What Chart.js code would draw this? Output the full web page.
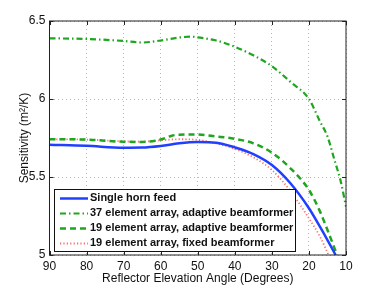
<!DOCTYPE html>
<html>
<head>
<meta charset="utf-8">
<script src="https://cdn.jsdelivr.net/npm/chart.js@4"></script>
<style>
  html, body { margin: 0; padding: 0; background: #fff; }
  #wrap { width: 382px; height: 287px; }
</style>
</head>
<body>
<div id="wrap"><canvas id="sens"></canvas></div>
<script>
// values (angle in degrees -> sensitivity m^2/K)
const xTicks = [90, 80, 70, 60, 50, 40, 30, 20, 10];
const yTicks = [5, 5.5, 6, 6.5];

const hornAngles = [90, 80, 70, 65, 60, 55, 50, 45, 40, 35, 30, 25, 20, 17, 15, 12.8];
const hornValues = [5.707, 5.70, 5.688, 5.689, 5.699, 5.716, 5.724, 5.72, 5.69, 5.647, 5.577, 5.46, 5.30, 5.18, 5.096, 5.0];

const arr37Angles = [90, 80, 70, 65, 60, 55, 52, 50, 45, 40, 35, 30, 25, 20, 17, 15, 13, 11.5, 10];
const arr37Values = [6.389, 6.385, 6.372, 6.362, 6.375, 6.394, 6.40, 6.395, 6.375, 6.335, 6.28, 6.21, 6.11, 6.00, 5.855, 5.76, 5.60, 5.48, 5.31];

const arr19Angles = [90, 80, 70, 65, 60, 57, 55, 50, 45, 40, 35, 30, 25, 20, 17, 15, 12.4];
const arr19Values = [5.742, 5.74, 5.726, 5.725, 5.74, 5.765, 5.771, 5.772, 5.76, 5.745, 5.716, 5.656, 5.556, 5.417, 5.278, 5.16, 5.0];

const fixedAngles = [90, 80, 70, 65, 60, 55, 50, 45, 40, 35, 30, 25, 20, 17, 14.7];
const fixedValues = [5.742, 5.74, 5.728, 5.727, 5.735, 5.742, 5.738, 5.715, 5.68, 5.626, 5.545, 5.41, 5.235, 5.117, 5.0];

const seriesNames = [
  'Single horn feed',
  '37 element array, adaptive beamformer',
  '19 element array, adaptive beamformer',
  '19 element array, fixed beamformer'
];

const toPoints = (xs, ys) => xs.map((x, i) => ({ x: x, y: ys[i] }));

const FONT = '"Liberation Sans", Arial, Helvetica, sans-serif';

// box round the axes, inward ticks, and the legend drawn inside the plot
const framePlugin = {
  id: 'frame',
  afterDatasetsDraw(chart) {
    const { ctx, chartArea: a, scales } = chart;
    ctx.save();
    ctx.strokeStyle = '#222';
    ctx.lineWidth = 1;
    ctx.setLineDash([]);
    ctx.strokeRect(a.left, a.top, a.right - a.left, a.bottom - a.top);
    ctx.beginPath();
    xTicks.forEach(t => {
      const px = Math.round(scales.x.getPixelForValue(t)) + 0.5;
      ctx.moveTo(px, a.bottom); ctx.lineTo(px, a.bottom - 4);
      ctx.moveTo(px, a.top); ctx.lineTo(px, a.top + 4);
    });
    yTicks.forEach(t => {
      const py = Math.round(scales.y.getPixelForValue(t)) + 0.5;
      ctx.moveTo(a.left, py); ctx.lineTo(a.left + 4, py);
      ctx.moveTo(a.right, py); ctx.lineTo(a.right - 4, py);
    });
    ctx.stroke();

    // legend
    const bx = 54, by = 189, bw = 241, bh = 62;
    ctx.fillStyle = '#fff';
    ctx.fillRect(bx, by, bw, bh);
    ctx.strokeStyle = '#111';
    ctx.strokeRect(bx + 0.5, by + 0.5, bw, bh);
    const rows = [197.5, 213, 228, 243];
    chart.data.datasets.forEach((ds, i) => {
      const y = Math.round(rows[i]) + 0.5;
      ctx.strokeStyle = ds.borderColor;
      ctx.lineWidth = ds.borderWidth;
      ctx.setLineDash(ds.borderDash || []);
      ctx.beginPath();
      ctx.moveTo(60, y); ctx.lineTo(88, y);
      ctx.stroke();
      ctx.setLineDash([]);
      ctx.fillStyle = '#111';
      ctx.font = 'bold 11px ' + FONT;
      ctx.textBaseline = 'middle';
      ctx.textAlign = 'left';
      ctx.fillText(ds.label, 90, rows[i]);
    });
    ctx.restore();
  }
};

new Chart(document.getElementById('sens'), {
  type: 'line',
  data: {
    datasets: [
      {
        label: seriesNames[0],
        data: toPoints(hornAngles, hornValues),
        borderColor: '#2040ff',
        borderWidth: 2.5
      },
      {
        label: seriesNames[1],
        data: toPoints(arr37Angles, arr37Values),
        borderColor: '#1fa51f',
        borderWidth: 2.2,
        borderDash: [6, 3, 1.5, 3]
      },
      {
        label: seriesNames[2],
        data: toPoints(arr19Angles, arr19Values),
        borderColor: '#1fa51f',
        borderWidth: 2.5,
        borderDash: [6, 4]
      },
      {
        label: seriesNames[3],
        data: toPoints(fixedAngles, fixedValues),
        borderColor: '#ff6a6a',
        borderWidth: 1.8,
        borderDash: [1.2, 2.2]
      }
    ]
  },
  options: {
    responsive: true,
    maintainAspectRatio: false,
    animation: false,
    layout: { padding: { left: 0, right: 36, top: 21, bottom: 0 } },
    elements: {
      point: { radius: 0 },
      line: { cubicInterpolationMode: 'monotone', fill: false }
    },
    scales: {
      x: {
        type: 'linear',
        reverse: true,
        min: 10,
        max: 90,
        afterFit: s => { s.height = 32; },
        afterBuildTicks: s => { s.ticks = xTicks.map(v => ({ value: v })); },
        grid: { color: '#b8b8b8', drawTicks: false },
        border: { display: false, dash: [1, 3] },
        ticks: {
          padding: 4,
          color: '#111',
          font: { family: FONT, size: 12 },
          maxRotation: 0
        },
        title: {
          display: true,
          text: 'Reflector Elevation Angle (Degrees)',
          color: '#111',
          font: { family: FONT, size: 12 },
          padding: { top: 0, bottom: 1 }
        }
      },
      y: {
        min: 5,
        max: 6.5,
        afterFit: s => { s.width = 49.5; },
        afterBuildTicks: s => { s.ticks = yTicks.map(v => ({ value: v })); },
        grid: { color: '#b8b8b8', drawTicks: false },
        border: { display: false, dash: [1, 3] },
        ticks: {
          padding: 4,
          color: '#111',
          font: { family: FONT, size: 12 },
          callback: v => String(v)
        },
        title: {
          display: true,
          text: 'Sensitivity (m²/K)',
          color: '#111',
          font: { family: FONT, size: 12 },
          padding: { top: 17, bottom: 0 }
        }
      }
    },
    plugins: {
      legend: { display: false },
      tooltip: { enabled: false }
    }
  },
  plugins: [framePlugin]
});
</script>
</body>
</html>
